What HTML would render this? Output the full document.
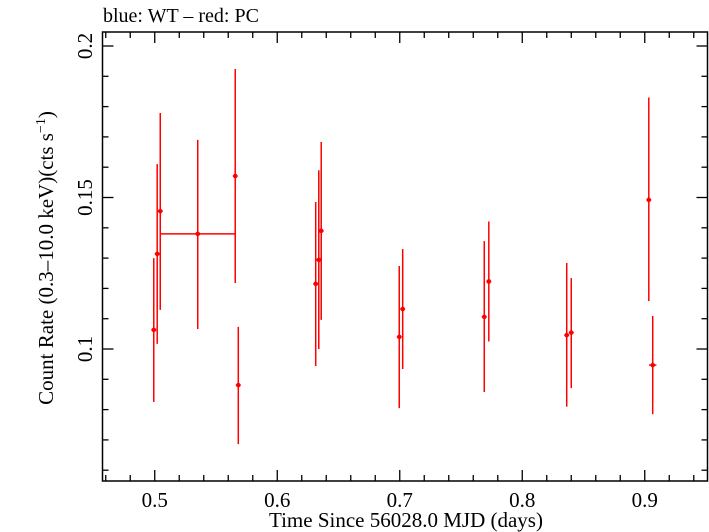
<!DOCTYPE html>
<html><head><meta charset="utf-8"><style>
html,body{margin:0;padding:0;background:#fff;}
svg{display:block;font-family:"Liberation Serif",serif;}
</style></head><body>
<svg id="chart" width="709" height="532" viewBox="0 0 709 532" xmlns="http://www.w3.org/2000/svg">
<text x="103" y="22" font-size="20">blue: WT – red: PC</text>
<rect x="102.5" y="32" width="605" height="449" fill="none" stroke="#000" stroke-width="1.5"/>
<g id="ticks"></g>
<g id="marks"></g>
<text x="406" y="527" font-size="21" text-anchor="middle">Time Since 56028.0 MJD (days)</text>
<text transform="translate(53,258) rotate(-90)" font-size="21" text-anchor="middle">Count Rate (0.3–10.0 keV)(cts s<tspan font-size="14" dy="-8">−1</tspan><tspan dy="8">)</tspan></text>
</svg>
<script>
const times = [0.4992,0.5020,0.5045,0.5351,0.5657,0.5682,0.6314,0.6339,0.6359,0.6996,0.7024,0.7690,0.7727,0.8363,0.8400,0.9033,0.9065];
const timeErr = [0.002,0.002,0.002,0.0306,0.002,0.002,0.002,0.002,0.002,0.002,0.002,0.002,0.002,0.002,0.002,0.002,0.003];
const rates = [0.1063,0.1314,0.1455,0.1380,0.1571,0.0881,0.1215,0.1294,0.1390,0.1040,0.1132,0.1106,0.1223,0.1046,0.1054,0.1492,0.0947];
const rateHi = [0.1300,0.1610,0.1779,0.1690,0.1924,0.1073,0.1485,0.1590,0.1683,0.1274,0.1330,0.1356,0.1421,0.1284,0.1234,0.1830,0.1109];
const rateLo = [0.0825,0.1017,0.1129,0.1066,0.1218,0.0686,0.0944,0.1000,0.1096,0.0805,0.0934,0.0858,0.1025,0.0810,0.0871,0.1158,0.0785];
const xTickLabels = ["0.5","0.6","0.7","0.8","0.9"];
const yTickLabels = ["0.1","0.15","0.2"];

const L=102.5,R=707.5,T=32,B=481;
const xMin=0.45735,xMax=0.95122,yMin=0.05644,yMax=0.20462;
const xs=v=>L+(v-xMin)/(xMax-xMin)*(R-L);
const ys=v=>B-(v-yMin)/(yMax-yMin)*(B-T);
const NS="http://www.w3.org/2000/svg";
function mk(tag,attrs,parent){const e=document.createElementNS(NS,tag);for(const k in attrs)e.setAttribute(k,attrs[k]);parent.appendChild(e);return e;}
const tg=document.getElementById('ticks');
for(let i=23;i<=47;i++){const v=i*0.02;const x=xs(v);if(x<L||x>R)continue;
  const major=Math.abs(v*10-Math.round(v*10))<1e-6;const len=major?11:6;
  const a=mk('line',{x1:x,x2:x,y1:B,y2:B-len,stroke:'#000','stroke-width':1.3},tg);
  
  
  const b=mk('line',{x1:x,x2:x,y1:T,y2:T+len,stroke:'#000','stroke-width':1.3},tg);
  
  }
xTickLabels.forEach(s=>{const t=mk('text',{x:xs(parseFloat(s)),y:507,'font-size':21,'text-anchor':'middle'},tg);t.textContent=s;
  
  });
for(let i=6;i<=20;i++){const v=i*0.01;const y=ys(v);if(y<T||y>B)continue;
  const major=(i%5===0);const len=major?11:6;
  const a=mk('line',{x1:L,x2:L+len,y1:y,y2:y,stroke:'#000','stroke-width':1.3},tg);
  
  
  const b=mk('line',{x1:R,x2:R-len,y1:y,y2:y,stroke:'#000','stroke-width':1.3},tg);
  
  }
yTickLabels.forEach(s=>{const y=ys(parseFloat(s));const t=mk('text',{transform:`translate(92,${y}) rotate(-90)`,'font-size':21,'text-anchor':'middle'},tg);t.textContent=s;
  
  });
const mg=document.getElementById('marks');
times.forEach((t,i)=>{
  const x=xs(t),y=ys(rates[i]);
  const v=mk('line',{x1:x,x2:x,y1:ys(rateHi[i]),y2:ys(rateLo[i]),stroke:'#f00','stroke-width':1.5},mg);
  
  
  const h=mk('line',{x1:xs(t-timeErr[i]),x2:xs(t+timeErr[i]),y1:y,y2:y,stroke:'#f00','stroke-width':1.5},mg);
  
  
  const c=mk('circle',{cx:x,cy:y,r:2.3,fill:'#f00'},mg);
  
  
});
</script>
</body></html>
